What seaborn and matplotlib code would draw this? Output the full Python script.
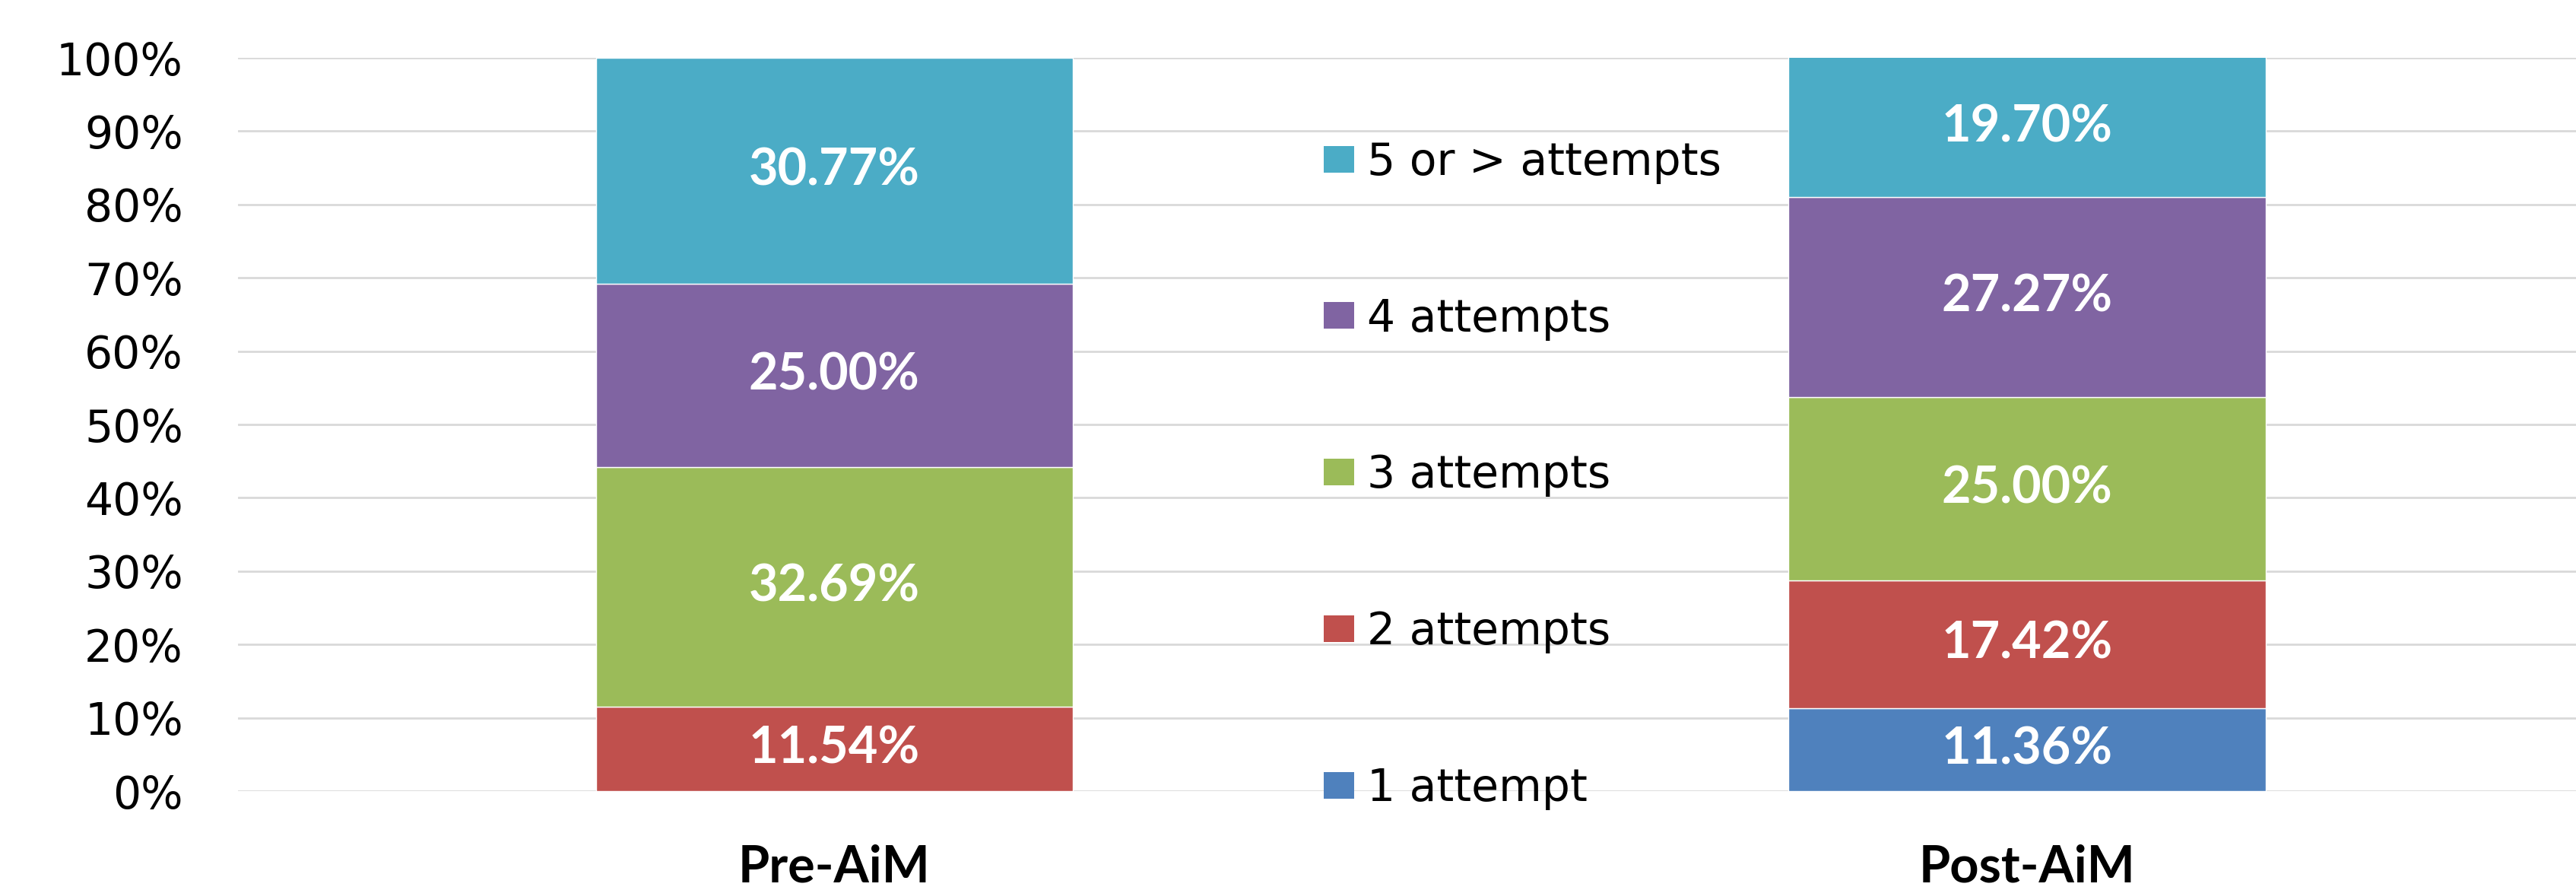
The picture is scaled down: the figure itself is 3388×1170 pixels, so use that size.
import matplotlib
matplotlib.use("Agg")
import matplotlib.pyplot as plt
from matplotlib.patches import Patch
import seaborn as sns

groups = ["Pre-AiM", "Post-AiM"]
levels = ["1 attempt", "2 attempts", "3 attempts", "4 attempts", "5 or > attempts"]
one_attempt = [0.0, 11.36]
two_attempts = [11.54, 17.42]
three_attempts = [32.69, 25.00]
four_attempts = [25.00, 27.27]
five_plus = [30.77, 19.70]
colors = ["#4F81BD", "#C0504D", "#9BBB59", "#8064A2", "#4BACC6"]

series = [one_attempt, two_attempts, three_attempts, four_attempts, five_plus]

sns.set_style("white")
plt.rcParams["font.family"] = ["DejaVu Sans"]
plt.rcParams["text.color"] = "black"
plt.rcParams["xtick.color"] = "black"
plt.rcParams["ytick.color"] = "black"

fig = plt.figure(figsize=(33.88, 11.70), dpi=100)
ax = fig.add_axes([0.0924, 0.111, 0.926, 0.824])

# stacked bars, one layer per attempt count
bottom = [0.0, 0.0]
for vals, col in zip(series, colors):
    sns.barplot(x=groups, y=vals, bottom=bottom, color=col, width=0.4,
                saturation=1, ax=ax, zorder=3)
    labels = [f"{v:.2f}%" if v > 0 else "" for v in vals]
    ax.bar_label(ax.containers[-1], labels=labels, label_type="center",
                 color="white", fontsize=48, fontweight="bold", family="Lato")
    bottom = [b + v for b, v in zip(bottom, vals)]

ax.set_ylim(0, 100)
ax.set_xlim(-0.5, 1.5)
ax.set_yticks(range(0, 101, 10))
ax.set_yticklabels([f"{t}%" for t in range(0, 101, 10)])
ax.yaxis.grid(True, color="#D9D9D9", linewidth=2, zorder=0)
ax.set_axisbelow(True)
for s in ax.spines.values():
    s.set_visible(False)
ax.tick_params(axis="y", length=0, pad=52, labelsize=42)
ax.tick_params(axis="x", length=0, pad=50)
for lab in ax.get_xticklabels():
    lab.set_fontfamily("Lato")
    lab.set_fontweight("bold")
    lab.set_fontsize(48)
ax.set_xlabel("")
ax.set_ylabel("")

handles = [Patch(facecolor=c, edgecolor="none") for c in colors][::-1]
fig.legend(handles, levels[::-1], loc="center left", bbox_to_anchor=(0.5053, 0.466),
           frameon=False, fontsize=42, labelspacing=2.55, handlelength=0.69,
           handleheight=0.55, handletextpad=0.28, borderpad=0)

fig.savefig("out.png", dpi=100)
